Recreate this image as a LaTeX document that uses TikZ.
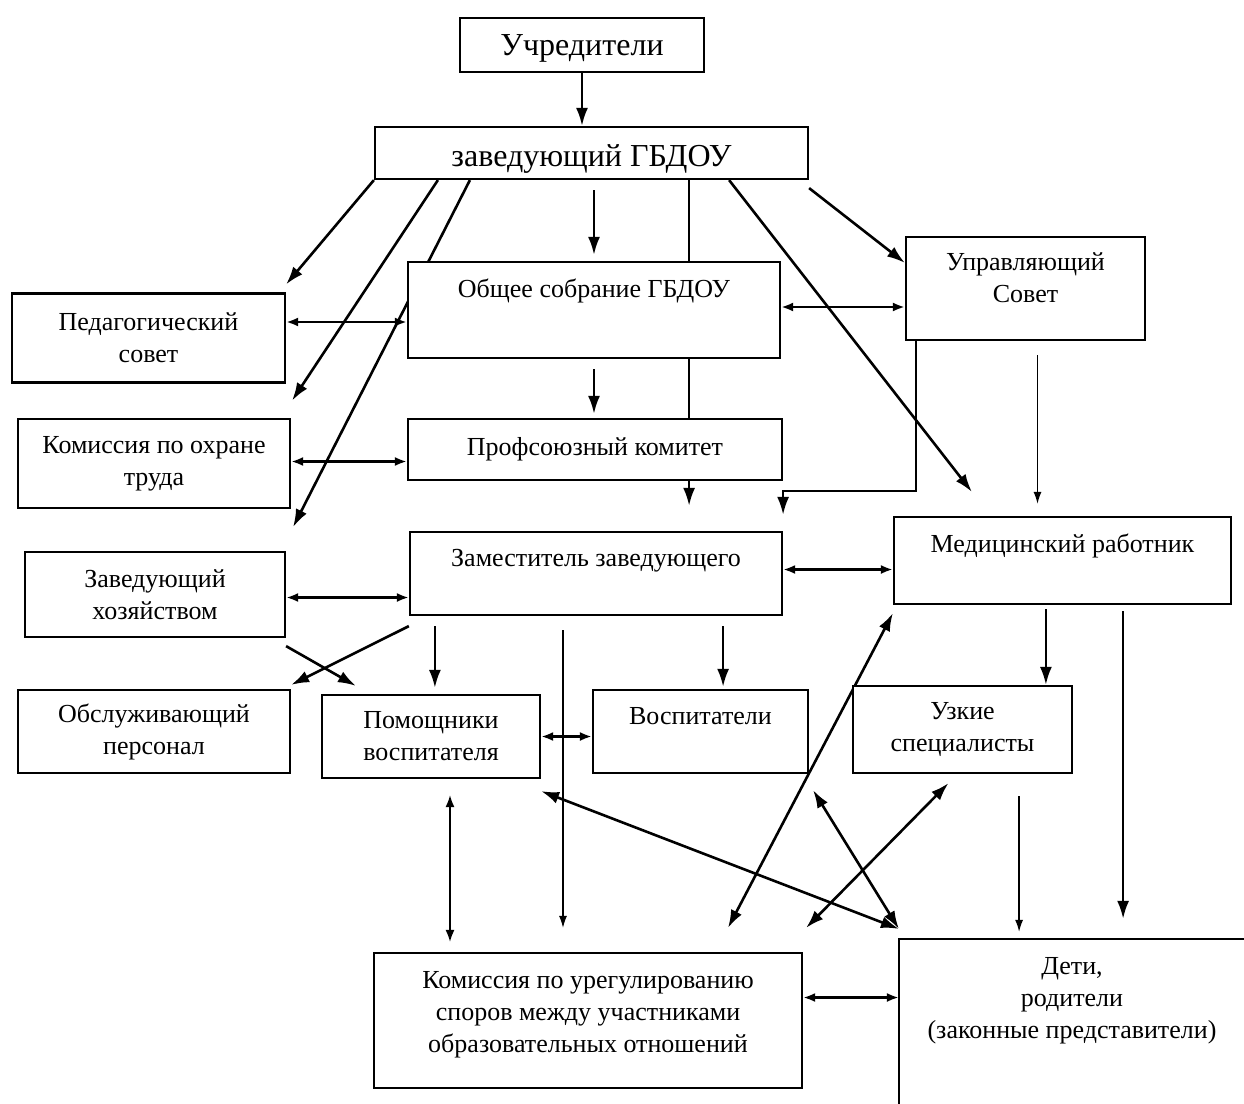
\documentclass[tikz,border=0pt]{standalone}
\usepackage{fontspec}
\setmainfont{Liberation Serif}
\usetikzlibrary{arrows.meta,backgrounds}

\tikzset{
	box/.style={draw, fill=white, line width=1.1pt, align=center, inner sep=2pt, font=\fontsize{13}{16}\selectfont},
	link/.style={line width=1.3pt},
	thinlink/.style={>={Latex[length=6pt,width=4pt]}, line width=0.7pt},
	twoway/.style={>={Latex[length=6pt,width=4.5pt]}, <->, line width=1.4pt},
}

\begin{document}
\begin{tikzpicture}[x=0.5pt, y=-0.5pt, >={Latex[length=9pt,width=6pt]}]
			\useasboundingbox (0,0) rectangle (1244,1104);
			\node (uch) [box, font=\fontsize{16}{19}\selectfont, minimum width=122pt, minimum height=27pt, text height=14pt] at (582,45) {Учредители};
			\node (zav) [box, font=\fontsize{16}{19}\selectfont, minimum width=216.5pt, minimum height=26pt, text height=16.5pt] at (591.5,153) {заведующий ГБДОУ};
			\node (obs) [box, minimum width=186pt, minimum height=48pt, text depth=22pt] at (594,310) {Общее собрание ГБДОУ};
			\node (upr) [box, minimum width=119.5pt, minimum height=51.5pt, text depth=11.4pt] at (1025.5,288.5) {Управляющий\\Совет};
			\node (ped) [box, minimum width=136.5pt, minimum height=44.5pt] at (148.5,338) {Педагогический\\совет};
			\node (kot) [box, minimum width=136pt, minimum height=44.5pt] at (154,463.5) {Комиссия по охране\\труда};
			\node (prof) [box, minimum width=187pt, minimum height=30.5pt] at (595,449.5) {Профсоюзный комитет};
			\node (zxoz) [box, minimum width=130pt, minimum height=42.5pt] at (155,594.5) {Заведующий\\хозяйством};
			\node (zam) [box, minimum width=186pt, minimum height=41.5pt, text depth=15.4pt] at (596,573.5) {Заместитель заведующего};
			\node (med) [box, minimum width=168.5pt, minimum height=43.5pt, text depth=17.4pt] at (1062.5,560.5) {Медицинский работник};
			\node (obsl) [box, minimum width=136pt, minimum height=41.5pt] at (154,731.5) {Обслуживающий\\персонал};
			\node (pom) [box, minimum width=109pt, minimum height=41.5pt] at (431,736.5) {Помощники\\воспитателя};
			\node (vos) [box, minimum width=107.5pt, minimum height=41.5pt, text depth=15.4pt] at (700.5,731.5) {Воспитатели};
			\node (uzk) [box, minimum width=109.5pt, minimum height=43.5pt] at (962.5,729.5) {Узкие\\специалисты};
			\node (kur) [box, minimum width=214pt, minimum height=67.5pt, text depth=9pt] at (588,1020.5) {Комиссия по урегулированию\\споров между участниками\\образовательных отношений};
			\node (deti) [box, draw=none, fill=none, minimum width=172pt, minimum height=82pt, text depth=24pt] at (1072,1022) {Дети,\\родители\\(законные представители)};
			\draw[line width=1pt] (deti.north east) -- (deti.north west) -- (deti.south west);
			\coordinate (zx) at ([shift={(-47pt,12.5pt)}]zam.north east);
			\begin{pgfonlayer}{background}
			\draw[->, link] (uch.south) -- (uch.south |- zav.north);
			\draw[->, link] (zav.south west) -- ([yshift=4pt]ped.north east);
			\draw[->, link] ([xshift=32pt]zav.south west) -- ([shift={(3pt,-8.5pt)}]ped.south east);
			\draw[->, link] ([xshift=48pt]zav.south west) -- ([shift={(1pt,-9pt)}]kot.south east);
			\draw[->, link] ([yshift=-5pt]zav.south -| obs.north) -- ([yshift=3pt]obs.north);
			\draw[->, link] (zav.south -| zx) -- (zx);
			\draw[->, link] ([xshift=-40pt]zav.south east) -- ([shift={(39.5pt,12pt)}]med.north west);
			\draw[->, link] ([yshift=-4pt]zav.south east) -- ([yshift=-13.5pt]upr.north west);
			\draw[twoway] ([yshift=-6pt]obs.west) -- ([yshift=-6pt]obs.west -| ped.east);
			\draw[twoway] ([yshift=1.5pt]obs.east) -- ([yshift=1.5pt]obs.east -| upr.west);
			\draw[->, link] ([yshift=-5pt]obs.south) -- ([yshift=2pt]obs.south |- prof.north);
			\draw[twoway] ([yshift=1pt]kot.east) -- ([yshift=1pt]kot.east -| prof.west);
			\draw[->, link] ([xshift=5.5pt]upr.south west) |- ([yshift=20pt]zam.north east) -- ([yshift=8pt]zam.north east);
			\draw[thinlink, ->, shorten <=7pt, shorten >=6pt] ([xshift=6pt]upr.south) -- ([xshift=6pt]upr.south |- med.north);
			\draw[twoway] ([yshift=2pt]zam.east) -- ([yshift=2pt]zam.east -| med.west);
			\draw[twoway] ([yshift=-1.5pt]zxoz.east) -- ([yshift=-1.5pt]zxoz.east -| zam.west);
			\draw[->, link] ([yshift=-5pt]zam.south west) -- ([yshift=2pt]obsl.north east);
			\draw[->, link] ([yshift=-4pt]zxoz.south east) -- ([shift={(17.5pt,4pt)}]pom.north west);
			\draw[->, link, shorten <=5pt, shorten >=3pt] ([xshift=13pt]zam.south west) -- ([xshift=13pt]zam.south west |- pom.north);
			\draw[thinlink, ->, shorten <=7pt, shorten >=12pt] ([xshift=-16.5pt]zam.south) -- ([xshift=-16.5pt]zam.south |- kur.north);
			\draw[->, link, shorten <=5pt, shorten >=1pt] ([xshift=-30pt]zam.south east) -- ([xshift=-30pt]zam.south east |- vos.north);
			\draw[twoway] (pom.east) -- (pom.east -| vos.west);
			\draw[->, link, shorten <=2pt] ([xshift=76.5pt]med.south west) -- ([xshift=76.5pt]med.south west |- uzk.north);
			\draw[->, link, shorten <=3pt, shorten >=10pt] ([xshift=-54.5pt]med.south east) -- ([xshift=-54.5pt]med.south east |- deti.north);
			\draw[thinlink, ->, shorten <=11pt, shorten >=3.5pt] ([xshift=-27pt]uzk.south east) -- ([xshift=-27pt]uzk.south east |- deti.north);
			\draw[twoway, line width=0.8pt, shorten <=8pt, shorten >=5pt] ([xshift=9.5pt]pom.south) -- ([xshift=9.5pt]pom.south |- kur.north);
			\draw[<->, link] ([yshift=5pt]deti.north west) -- ([yshift=-6pt]pom.south east);
			\draw[<->, link] ([yshift=5pt]deti.north west) -- ([shift={(2pt,-8pt)}]vos.south east);
			\draw[<->, link] ([yshift=-4pt]med.south west) -- ([shift={(70pt,12pt)}]kur.north);
			\draw[<->, link] ([shift={(-7pt,-4.5pt)}]uzk.south) -- ([shift={(1.5pt,12pt)}]kur.north east);
			\draw[twoway] ([yshift=11.5pt]kur.east) -- ([yshift=11.5pt]kur.east -| deti.west);
			\end{pgfonlayer}
		\end{tikzpicture}
\end{document}
